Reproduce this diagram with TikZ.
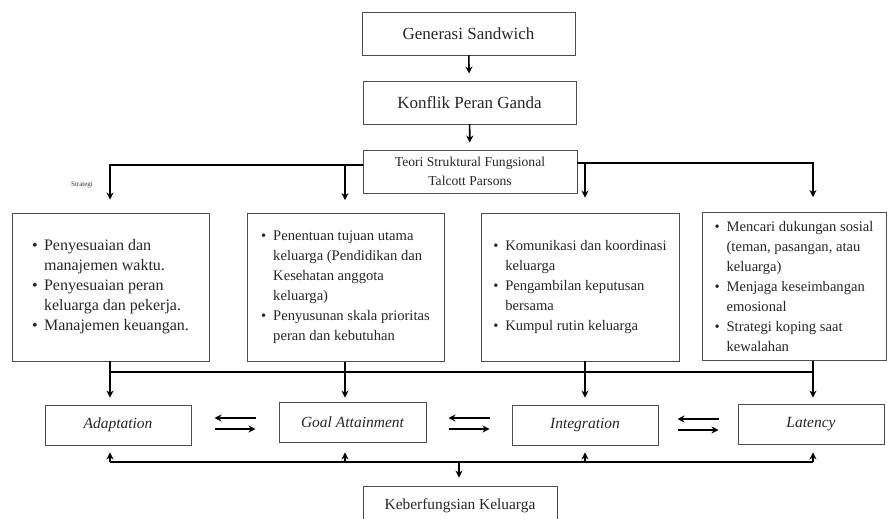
\documentclass[tikz,border=0pt]{standalone}
\usepackage{fontspec}
\setmainfont{Liberation Serif}
\usetikzlibrary{arrows.meta,positioning}

\newcommand{\bul}{\makebox[12pt][l]{\textbullet}}
\newcommand{\ind}{\hspace*{12pt}}

\tikzset{
  box/.style={draw=black!70, line width=0.9pt, align=center, inner sep=0pt, text=black!85},
  listbox/.style={box, align=left, minimum height=148pt, font={\fontsize{14.6}{20}\selectfont}},
  aspect/.style={box, minimum width=146pt, minimum height=40pt, font={\fontsize{15.5}{18}\selectfont\itshape}},
  link/.style={line width=1.6pt},
  arr/.style={link, -{Stealth[length=7pt,width=7pt]}},
}

\begin{document}
\begin{tikzpicture}[x=1pt,y=-1pt]
\useasboundingbox (0,0) rectangle (887,519);

\coordinate (c1) at (110,0);
\coordinate (c2) at (345,0);
\coordinate (c3) at (585,0);
\coordinate (c4) at (813,0);
\coordinate (c5) at (459,0);

\node[box, minimum width=213pt, minimum height=43pt, font={\fontsize{17}{20}\selectfont}] (gen) at (468.5,33.5) {Generasi Sandwich};
\node[box, minimum width=213pt, minimum height=43pt, font={\fontsize{17}{20}\selectfont}] (konflik) at (469.5,102.5) {Konflik Peran Ganda};
\node[box, minimum width=214pt, minimum height=43pt, font={\fontsize{13.6}{19}\selectfont}] (teori) at (470,171.5) {Teori Struktural Fungsional\\Talcott Parsons};

\node[font={\fontsize{7}{8}\selectfont}, text=black!80] (strlabel) at (82,185) {Strategi};

\node[listbox, minimum width=197pt, font={\fontsize{16}{20}\selectfont}] (box1) at (110.5,287) {%
\bul Penyesuaian dan\\ \ind manajemen waktu.\\ \bul Penyesuaian peran\\ \ind keluarga dan pekerja.\\ \bul Manajemen keuangan.};
\node[listbox, minimum width=197pt] (box2) at (345.5,287.5) {%
\bul Penentuan tujuan utama\\ \ind keluarga (Pendidikan dan\\ \ind Kesehatan anggota\\ \ind keluarga)\\ \bul Penyusunan skala prioritas\\ \ind peran dan kebutuhan};
\node[listbox, minimum width=198pt] (box3) at (580,287) {%
\bul Komunikasi dan koordinasi\\ \ind keluarga\\ \bul Pengambilan keputusan\\ \ind bersama\\ \bul Kumpul rutin keluarga};
\node[listbox, minimum width=184pt] (box4) at (794,286.5) {%
\bul Mencari dukungan sosial\\ \ind (teman, pasangan, atau\\ \ind keluarga)\\ \bul Menjaga keseimbangan\\ \ind emosional\\ \bul Strategi koping saat\\ \ind kewalahan};

\node[aspect] (adapt) at (118,425) {Adaptation};
\node[aspect, minimum width=147pt] (goal) at (352.5,422) {Goal Attainment};
\node[aspect] (integ) at (585,425) {Integration};
\node[aspect] (lat) at (811,424) {Latency};

\node[box, minimum width=194pt, minimum height=40pt, font={\fontsize{15.4}{18}\selectfont}] (keb) at (460,506) {Keberfungsian Keluarga};

% atas
\draw[arr, shorten >=7pt] (gen) -- (konflik);
\draw[arr, shorten >=7pt] (konflik) -- (teori);
\coordinate (tl) at ([yshift=6.5pt]teori.west);
\coordinate (tr) at ([yshift=8.5pt]teori.east);
\draw[arr, shorten >=13pt] (tl) -| (box1.north -| c1);
\draw[arr, shorten >=13pt] (tl -| c2) -- (box2.north -| c2);
\draw[arr, shorten >=15pt] (tr) -| (box4.north -| c4);
\draw[arr, shorten >=15pt] (tr -| c3) -- (box3.north -| c3);

% tengah
\coordinate (mb) at (0,372);
\draw[link] (mb -| c1) -- (mb -| c4);
\draw[arr, shorten >=7pt] (box1.south -| c1) -- (adapt.north -| c1);
\draw[arr, shorten >=4pt] (box2.south -| c2) -- (goal.north -| c2);
\draw[arr, shorten >=7pt] (box3.south -| c3) -- (integ.north -| c3);
\draw[arr, shorten >=6pt] (box4.south -| c4) -- (lat.north -| c4);

\foreach \a/\b in {adapt/goal, goal/integ, integ/lat}{
  \path (\a.east) -- (\b.west) coordinate[midway] (m);
  \draw[arr] ([shift={(20.5pt,5.5pt)}]m) -- ([shift={(-20.5pt,5.5pt)}]m);
  \draw[arr] ([shift={(-20.5pt,-5.5pt)}]m) -- ([shift={(20.5pt,-5.5pt)}]m);
}

% bawah
\coordinate (bb) at (0,462);
\draw[link] (bb -| c1) -- (bb -| c4);
\draw[arr, shorten >=7pt] (bb -| c1) -- (adapt.south -| c1);
\draw[arr, shorten >=10pt] (bb -| c2) -- (goal.south -| c2);
\draw[arr, shorten >=7pt] (bb -| c3) -- (integ.south -| c3);
\draw[arr, shorten >=8pt] (bb -| c4) -- (lat.south -| c4);
\draw[arr, shorten >=8pt] (bb -| c5) -- (keb.north -| c5);
\end{tikzpicture}
\end{document}
